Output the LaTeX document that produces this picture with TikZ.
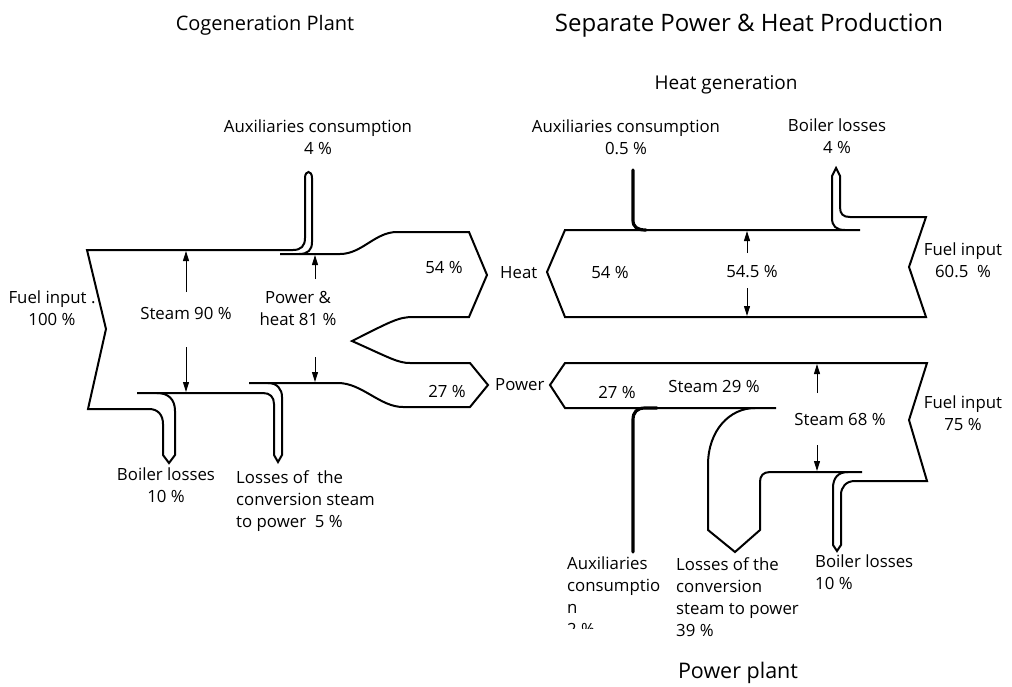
\documentclass[tikz,border=0pt]{standalone}
\usepackage{fontspec}
\setmainfont{Open Sans}
\usetikzlibrary{arrows.meta}
\begin{document}
\begin{tikzpicture}[x=1pt,y=-1pt,
  band/.style={line width=2pt, line join=miter, line cap=butt},
  thickpipe/.style={line width=3.2pt, line cap=round},
  flowarrow/.style={line width=1pt, -{Triangle[length=10pt,width=6pt]}},
  lbl/.style={inner sep=0pt, font=\fontsize{16.8}{22}\selectfont},
  ttl/.style={inner sep=0pt, font=\fontsize{20}{24}\selectfont}]
\fill[white] (0,0) rectangle (1012,686);
\useasboundingbox (0,0) rectangle (1012,686);

% ---------------- Cogeneration plant ----------------
\draw[band] (157,393) .. controls (168,393) and (175,399) .. (175,411) -- (175,455) -- (169,463) -- (163,455) -- (163,424)
  .. controls (163,415) and (158,409) .. (149,409) -- (88,409) -- (106,329) -- (87,250) -- (293,250)
  .. controls (301,250) and (305,246) .. (305,238) -- (305,178) .. controls (305,170) and (312,170) .. (312,178)
  -- (312,242) .. controls (312,250) and (308,254) .. (299,254);
\draw[band] (280,254) -- (340,254) .. controls (362,254) and (375,232) .. (397,232) -- (469,232) -- (487,275) -- (469,317)
  -- (413,317) .. controls (398,317) and (390,322) .. (352,341) .. controls (390,358) and (398,363) .. (410,363)
  -- (470,363) -- (488,385) -- (470,407) -- (403,407) .. controls (380,407) and (362,383) .. (338,383) -- (249,383);
\draw[band] (137,393) -- (263,393) .. controls (270,393) and (274,397) .. (274,404) -- (274,455) -- (278,462) -- (282,455)
  -- (282,397) .. controls (282,389) and (277,383) .. (268,383);
\draw[flowarrow] (186,292) -- (186,251);
\draw[flowarrow] (186,347) -- (186,392);
\draw[flowarrow] (315,279) -- (315,255);
\draw[flowarrow] (315,357) -- (315,382);

\node[ttl] (tl) at (265,25) {Cogeneration Plant};
\node[lbl, align=center, anchor=north] (auxl) at (318,120) {Auxiliaries consumption\\4 \%};
\node[lbl, align=center, anchor=north] (fuell) at (52,291) {Fuel input .\\100 \%};
\node[lbl] (st90) at (186,313) {Steam 90 \%};
\node[lbl, align=center, anchor=north] (ph) at (298,291) {Power \&\\heat 81 \%};
\node[lbl] (h54) at (444,267) {54 \%};
\node[lbl, anchor=west] (heat) at (500,273) {Heat};
\node[lbl] (p27) at (447,391) {27 \%};
\node[lbl, anchor=west] (power) at (495,385) {Power};
\node[lbl, align=center, anchor=north] (boill) at (166,468) {Boiler losses\\10 \%};
\node[lbl, align=left, anchor=north west] (convl) at (236,470) {Losses of~ the\\conversion steam\\to power~ 5 \%};

% ---------------- Separate production: heat ----------------
\draw[band] (845,230) .. controls (836,230) and (832,226) .. (832,218) -- (832,176) -- (836,168) -- (840,176)
  -- (840,207) .. controls (840,214) and (843,217) .. (850,217) -- (926,217) -- (909,267) -- (926,317)
  -- (565,317) -- (547,272) -- (565,230) -- (860,230);
\draw[thickpipe] (633,170) -- (633,220) .. controls (633,227) and (637,230) .. (646,230);
\draw[flowarrow] (747,253) -- (747,231);
\draw[flowarrow] (747,288) -- (747,316);

\node[ttl, font=\fontsize{24}{28}\selectfont] (tr) at (749,25) {Separate Power \& Heat Production};
\node[lbl, font=\fontsize{19}{22}\selectfont] (hg) at (726,85) {Heat generation};
\node[lbl, align=center, anchor=north] (auxh) at (626,120) {Auxiliaries consumption\\0.5 \%};
\node[lbl, align=center, anchor=north] (boilh) at (837,119) {Boiler losses\\4 \%};
\node[lbl] (h54r) at (610,272) {54 \%};
\node[lbl] (h545) at (752,272) {54.5 \%};
\node[lbl, align=center, anchor=north] (fuelh) at (963,243) {Fuel input\\60.5~ \%};

% ---------------- Separate production: power ----------------
\draw[band] (755,408) .. controls (730,408) and (708,430) .. (708,465) -- (708,530) -- (735,552) -- (760,530)
  -- (760,482) .. controls (760,476) and (763,472) .. (770,472) -- (862,472);
\draw[band] (848,472) .. controls (838,472) and (833,478) .. (833,488) -- (833,545) -- (837,551) -- (841,545)
  -- (841,495) .. controls (841,487) and (846,481) .. (855,481) -- (927,481) -- (909,420) -- (927,363)
  -- (565,363) -- (550,385) -- (565,408) -- (776,408);
\draw[thickpipe] (633,552) -- (633,420) .. controls (633,412) and (637,408) .. (645,408) -- (657,408);
\draw[flowarrow] (817,393) -- (817,364);
\draw[flowarrow] (817,445) -- (817,471);

\node[lbl] (p27r) at (617,392) {27 \%};
\node[lbl] (st29) at (714,386) {Steam 29 \%};
\node[lbl] (st68) at (840,419) {Steam 68 \%};
\node[lbl, align=center, anchor=north] (fuelp) at (963,396) {Fuel input\\75 \%};
\begin{scope}
  \clip (555,545) rectangle (675,628);
  \node[lbl, align=left, anchor=north west] (auxp) at (567,557) {Auxiliaries\\consumptio\\n\\2 \%};
\end{scope}
\node[lbl, align=left, anchor=north west] (lossp) at (676,557) {Losses of the\\conversion\\steam to power\\39 \%};
\node[lbl, align=left, anchor=north west] (boilp) at (815,555) {Boiler losses\\10 \%};
\node[ttl, font=\fontsize{21.5}{24}\selectfont] (pp) at (738,673) {Power plant};
\end{tikzpicture}
\end{document}
